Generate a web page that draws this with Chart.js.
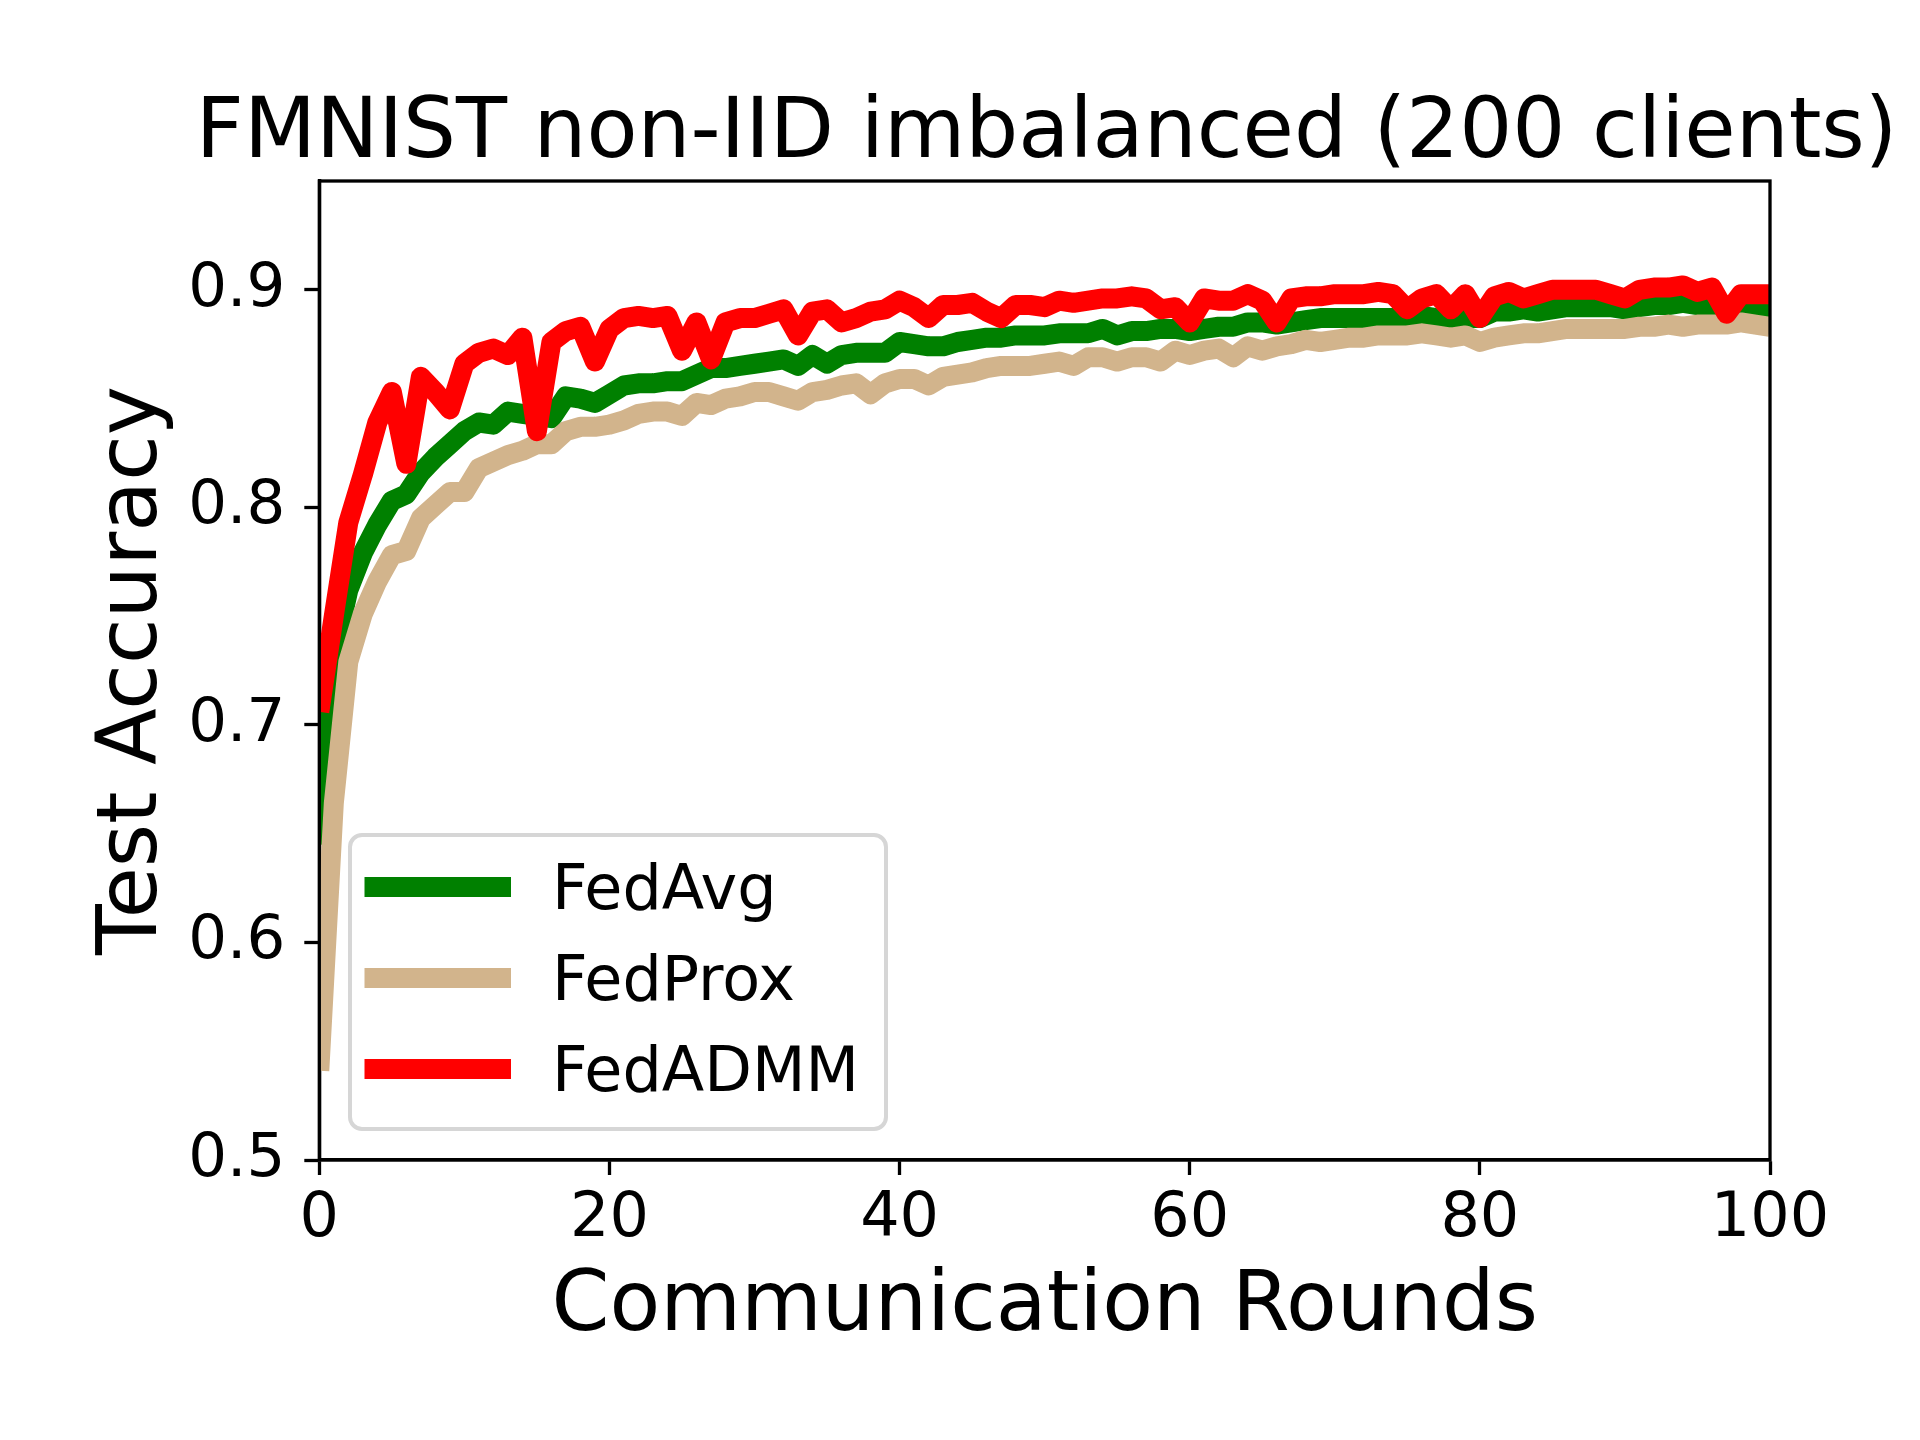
<!DOCTYPE html>
<html>
<head>
<meta charset="utf-8">
<script src="https://cdn.jsdelivr.net/npm/chart.js@4.4.1/dist/chart.umd.min.js"></script>
<style>
  html, body { margin: 0; padding: 0; background: #ffffff; }
  canvas { display: block; }
</style>
</head>
<body>
<canvas id="grafico" width="1920" height="1440" style="width:1920px;height:1440px"></canvas>
<script>
const titulo = "FMNIST non-IID imbalanced (200 clients)";
const tituloX = "Communication Rounds";
const tituloY = "Test Accuracy";

const rodadas = Array.from({ length: 101 }, (_, i) => i);

const fedAvg = [
    0.645, 0.732, 0.762, 0.779, 0.792, 0.803, 0.806, 0.816, 0.823, 0.829,
    0.835, 0.839, 0.838, 0.844, 0.843, 0.842, 0.841, 0.851, 0.850, 0.848,
    0.852, 0.856, 0.857, 0.857, 0.858, 0.858, 0.861, 0.864, 0.864, 0.865,
    0.866, 0.867, 0.868, 0.865, 0.870, 0.866, 0.870, 0.871, 0.871, 0.871,
    0.876, 0.875, 0.874, 0.874, 0.876, 0.877, 0.878, 0.878, 0.879, 0.879,
    0.879, 0.880, 0.880, 0.880, 0.882, 0.879, 0.881, 0.881, 0.882, 0.882,
    0.881, 0.882, 0.883, 0.883, 0.885, 0.885, 0.884, 0.885, 0.886, 0.887,
    0.887, 0.887, 0.887, 0.887, 0.887, 0.888, 0.888, 0.887, 0.886, 0.887,
    0.887, 0.890, 0.890, 0.891, 0.890, 0.891, 0.892, 0.892, 0.892, 0.892,
    0.891, 0.892, 0.893, 0.893, 0.894, 0.893, 0.893, 0.892, 0.892, 0.892,
    0.891
];

const fedProx = [
    0.541, 0.664, 0.729, 0.751, 0.766, 0.778, 0.780, 0.795, 0.801, 0.807,
    0.807, 0.818, 0.821, 0.824, 0.826, 0.829, 0.829, 0.835, 0.837, 0.837,
    0.838, 0.840, 0.843, 0.844, 0.844, 0.842, 0.848, 0.847, 0.850, 0.851,
    0.853, 0.853, 0.851, 0.849, 0.853, 0.854, 0.856, 0.857, 0.852, 0.857,
    0.859, 0.859, 0.856, 0.860, 0.861, 0.862, 0.864, 0.865, 0.865, 0.865,
    0.866, 0.867, 0.865, 0.869, 0.869, 0.867, 0.869, 0.869, 0.867, 0.872,
    0.870, 0.872, 0.873, 0.869, 0.874, 0.872, 0.874, 0.875, 0.877, 0.876,
    0.877, 0.878, 0.878, 0.879, 0.879, 0.879, 0.880, 0.879, 0.878, 0.879,
    0.876, 0.878, 0.879, 0.880, 0.880, 0.881, 0.882, 0.882, 0.882, 0.882,
    0.882, 0.883, 0.883, 0.884, 0.883, 0.884, 0.884, 0.884, 0.885, 0.884,
    0.883
];

const fedAdmm = [
    0.706, 0.750, 0.793, 0.815, 0.839, 0.853, 0.820, 0.860, 0.853, 0.845,
    0.866, 0.871, 0.873, 0.870, 0.878, 0.835, 0.876, 0.881, 0.883, 0.867,
    0.882, 0.887, 0.888, 0.887, 0.888, 0.872, 0.885, 0.868, 0.885, 0.887,
    0.887, 0.889, 0.891, 0.879, 0.890, 0.891, 0.885, 0.887, 0.890, 0.891,
    0.895, 0.892, 0.887, 0.893, 0.893, 0.894, 0.890, 0.887, 0.893, 0.893,
    0.892, 0.895, 0.894, 0.895, 0.896, 0.896, 0.897, 0.896, 0.891, 0.892,
    0.885, 0.896, 0.895, 0.895, 0.898, 0.895, 0.885, 0.896, 0.897, 0.897,
    0.898, 0.898, 0.898, 0.899, 0.898, 0.891, 0.896, 0.898, 0.891, 0.898,
    0.887, 0.897, 0.899, 0.896, 0.898, 0.900, 0.900, 0.900, 0.900, 0.898,
    0.896, 0.900, 0.901, 0.901, 0.902, 0.899, 0.901, 0.889, 0.898, 0.898,
    0.898
];

const ticksX = [0, 20, 40, 60, 80, 100];
const rotulosX = ["0", "20", "40", "60", "80", "100"];
const ticksY = [0.5, 0.6, 0.7, 0.8, 0.9];
const rotulosY = ["0.5", "0.6", "0.7", "0.8", "0.9"];

const fonte = '"DejaVu Sans", sans-serif';

function pontos(valores) {
    return valores.map((v, i) => ({ x: rodadas[i], y: v }));
}

// titulo, moldura e legenda no estilo do matplotlib
const extras = {
    id: "extras",
    afterDatasetsDraw(chart) {
        const { ctx, chartArea } = chart;
        ctx.save();
        ctx.strokeStyle = "#000000";
        ctx.lineWidth = 3.3;
        ctx.strokeRect(chartArea.left, chartArea.top,
            chartArea.right - chartArea.left, chartArea.bottom - chartArea.top);
        ctx.restore();
    },
    afterDraw(chart) {
        const { ctx, chartArea } = chart;
        ctx.save();

        ctx.fillStyle = "#000000";
        ctx.font = "83.5px " + fonte;
        ctx.textAlign = "center";
        ctx.textBaseline = "alphabetic";
        ctx.fillText(titulo, (chartArea.left + chartArea.right) / 2 + 2, 157);

        // caixa da legenda
        const lx = 350, ly = 835, lw = 536, lh = 294;
        ctx.beginPath();
        ctx.roundRect(lx, ly, lw, lh, 12);
        ctx.fillStyle = "rgba(255,255,255,0.8)";
        ctx.fill();
        ctx.strokeStyle = "#d6d6d6";
        ctx.lineWidth = 4;
        ctx.stroke();

        ctx.font = "62px " + fonte;
        ctx.textAlign = "left";
        chart.data.datasets.forEach((ds, i) => {
            const y = 887 + i * 91;
            ctx.beginPath();
            ctx.moveTo(364.5, y);
            ctx.lineTo(511, y);
            ctx.strokeStyle = ds.borderColor;
            ctx.lineWidth = 20;
            ctx.lineCap = "butt";
            ctx.stroke();
            ctx.fillStyle = "#000000";
            ctx.fillText(ds.label, 552, y + 21.5);
        });
        ctx.restore();
    }
};

const ctx = document.getElementById("grafico").getContext("2d");

new Chart(ctx, {
    type: "line",
    data: {
        datasets: [
            { label: "FedAvg", data: pontos(fedAvg), borderColor: "#008000", order: 3 },
            { label: "FedProx", data: pontos(fedProx), borderColor: "#d2b48c", order: 2 },
            { label: "FedADMM", data: pontos(fedAdmm), borderColor: "#ff0000", order: 1 }
        ]
    },
    options: {
        responsive: false,
        animation: false,
        devicePixelRatio: 1,
        layout: { padding: { top: 181, right: 150, left: 0, bottom: 0 } },
        datasets: {
            line: {
                borderWidth: 20,
                pointRadius: 0,
                tension: 0,
                borderJoinStyle: "round",
                borderCapStyle: "butt",
                fill: false,
                clip: 0
            }
        },
        plugins: {
            legend: { display: false },
            tooltip: { enabled: false },
            title: { display: false }
        },
        scales: {
            x: {
                type: "linear",
                min: 0,
                max: 100,
                afterFit(scale) { scale.height = 280; },
                afterBuildTicks(scale) { scale.ticks = ticksX.map(v => ({ value: v })); },
                grid: {
                    drawOnChartArea: false,
                    drawTicks: true,
                    tickLength: 15,
                    tickWidth: 3.3,
                    tickColor: "#000000"
                },
                border: { display: true, color: "#000000", width: 3.3 },
                ticks: {
                    color: "#000000",
                    font: { family: fonte, size: 62 },
                    padding: 8,
                    maxRotation: 0,
                    autoSkip: false,
                    callback: (v, i) => rotulosX[i]
                },
                title: {
                    display: true,
                    text: tituloX,
                    color: "#000000",
                    font: { family: fonte, size: 83, lineHeight: 1.2 },
                    padding: { top: 0, bottom: 82 }
                }
            },
            y: {
                type: "linear",
                min: 0.5,
                max: 0.95,
                afterFit(scale) { scale.width = 319.3; },
                afterBuildTicks(scale) { scale.ticks = ticksY.map(v => ({ value: v })); },
                grid: {
                    drawOnChartArea: false,
                    drawTicks: true,
                    tickLength: 15,
                    tickWidth: 3.3,
                    tickColor: "#000000"
                },
                border: { display: true, color: "#000000", width: 3.3 },
                ticks: {
                    color: "#000000",
                    font: { family: fonte, size: 61 },
                    padding: 19,
                    autoSkip: false,
                    callback: (v, i) => rotulosY[i]
                },
                title: {
                    display: true,
                    text: tituloY,
                    color: "#000000",
                    font: { family: fonte, size: 83, lineHeight: 1.2 },
                    padding: { top: 85, bottom: 0 }
                }
            }
        }
    },
    plugins: [extras]
});
</script>
</body>
</html>
